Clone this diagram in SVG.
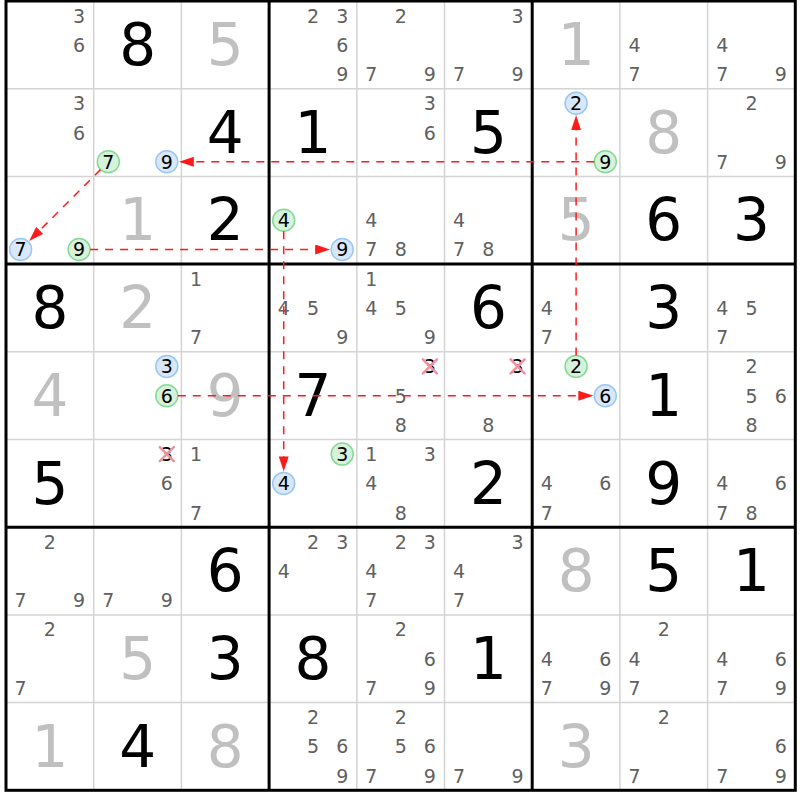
<svg xmlns="http://www.w3.org/2000/svg" width="800" height="800" viewBox="0 0 800 800">
<style>
text{font-family:"DejaVu Sans","Liberation Sans",sans-serif;text-anchor:middle}
.g{font-size:58px;fill:#000}
.s{font-size:58px;fill:#c0c0c0}
.c{font-size:19px;fill:#606060}
.k{font-size:19px;fill:#000}
.cb{fill:#d8e8fa;stroke:#9ac6f2;stroke-width:1.5}
.cg{fill:#d6f2da;stroke:#86d896;stroke-width:1.5}
.x{stroke:#f4909c;stroke-width:2.5;stroke-linecap:round}
.thin{stroke:#d4d4d4;stroke-width:1.5}
.thick{stroke:#000;stroke-width:3}
.arr{stroke:#ff1a1a;stroke-width:1.5;stroke-dasharray:8 7;fill:none;marker-end:url(#ah)}
</style>
<defs>
<marker id="ah" viewBox="0 0 15 10" refX="15" refY="5" markerWidth="15" markerHeight="10" markerUnits="userSpaceOnUse" orient="auto">
<path d="M0,0 L15,5 L0,10 z" fill="#ff1a1a"/>
</marker>
</defs>
<rect x="0" y="0" width="800" height="800" fill="#fff"/>
<g id="grid">
<path class="thin" d="M93.7 1V790.3M181.4 1V790.3M356.8 1V790.3M444.5 1V790.3M619.9 1V790.3M707.6 1V790.3M6 88.7H795.3M6 176.4H795.3M6 351.8H795.3M6 439.5H795.3M6 614.9H795.3M6 702.6H795.3"/>
<path class="thick" d="M269.1 1V790.3M532.2 1V790.3M6 264.1H795.3M6 527.2H795.3"/>
<rect x="6" y="1" width="789.3" height="789.3" fill="none" stroke="#000" stroke-width="3"/>
</g>
<!-- row 0 -->
<g id="r0c0" transform="translate(6,1)"><text class="c" x="73.1" y="21.6">3</text><text class="c" x="73.1" y="50.9">6</text></g>
<g id="r0c1" transform="translate(93.7,1)"><text class="g" x="43.9" y="64">8</text></g>
<g id="r0c2" transform="translate(181.4,1)"><text class="s" x="43.9" y="64">5</text></g>
<g id="r0c3" transform="translate(269.1,1)"><text class="c" x="43.9" y="21.6">2</text><text class="c" x="73.1" y="21.6">3</text><text class="c" x="73.1" y="50.9">6</text><text class="c" x="73.1" y="80.1">9</text></g>
<g id="r0c4" transform="translate(356.8,1)"><text class="c" x="43.9" y="21.6">2</text><text class="c" x="14.6" y="80.1">7</text><text class="c" x="73.1" y="80.1">9</text></g>
<g id="r0c5" transform="translate(444.5,1)"><text class="c" x="73.1" y="21.6">3</text><text class="c" x="14.6" y="80.1">7</text><text class="c" x="73.1" y="80.1">9</text></g>
<g id="r0c6" transform="translate(532.2,1)"><text class="s" x="43.9" y="64">1</text></g>
<g id="r0c7" transform="translate(619.9,1)"><text class="c" x="14.6" y="50.9">4</text><text class="c" x="14.6" y="80.1">7</text></g>
<g id="r0c8" transform="translate(707.6,1)"><text class="c" x="14.6" y="50.9">4</text><text class="c" x="14.6" y="80.1">7</text><text class="c" x="73.1" y="80.1">9</text></g>
<!-- row 1 -->
<g id="r1c0" transform="translate(6,88.7)"><text class="c" x="73.1" y="21.6">3</text><text class="c" x="73.1" y="50.9">6</text></g>
<g id="r1c1" transform="translate(93.7,88.7)"><circle class="cg" cx="14.6" cy="73.1" r="11"/><text class="k" x="14.6" y="80.1">7</text><circle class="cb" cx="73.1" cy="73.1" r="11"/><text class="k" x="73.1" y="80.1">9</text></g>
<g id="r1c2" transform="translate(181.4,88.7)"><text class="g" x="43.9" y="64">4</text></g>
<g id="r1c3" transform="translate(269.1,88.7)"><text class="g" x="43.9" y="64">1</text></g>
<g id="r1c4" transform="translate(356.8,88.7)"><text class="c" x="73.1" y="21.6">3</text><text class="c" x="73.1" y="50.9">6</text></g>
<g id="r1c5" transform="translate(444.5,88.7)"><text class="g" x="43.9" y="64">5</text></g>
<g id="r1c6" transform="translate(532.2,88.7)"><circle class="cb" cx="43.9" cy="14.6" r="11"/><text class="k" x="43.9" y="21.6">2</text><circle class="cg" cx="73.1" cy="73.1" r="11"/><text class="k" x="73.1" y="80.1">9</text></g>
<g id="r1c7" transform="translate(619.9,88.7)"><text class="s" x="43.9" y="64">8</text></g>
<g id="r1c8" transform="translate(707.6,88.7)"><text class="c" x="43.9" y="21.6">2</text><text class="c" x="14.6" y="80.1">7</text><text class="c" x="73.1" y="80.1">9</text></g>
<!-- row 2 -->
<g id="r2c0" transform="translate(6,176.4)"><circle class="cb" cx="14.6" cy="73.1" r="11"/><text class="k" x="14.6" y="80.1">7</text><circle class="cg" cx="73.1" cy="73.1" r="11"/><text class="k" x="73.1" y="80.1">9</text></g>
<g id="r2c1" transform="translate(93.7,176.4)"><text class="s" x="43.9" y="64">1</text></g>
<g id="r2c2" transform="translate(181.4,176.4)"><text class="g" x="43.9" y="64">2</text></g>
<g id="r2c3" transform="translate(269.1,176.4)"><circle class="cg" cx="14.6" cy="43.9" r="11"/><text class="k" x="14.6" y="50.9">4</text><circle class="cb" cx="73.1" cy="73.1" r="11"/><text class="k" x="73.1" y="80.1">9</text></g>
<g id="r2c4" transform="translate(356.8,176.4)"><text class="c" x="14.6" y="50.9">4</text><text class="c" x="14.6" y="80.1">7</text><text class="c" x="43.9" y="80.1">8</text></g>
<g id="r2c5" transform="translate(444.5,176.4)"><text class="c" x="14.6" y="50.9">4</text><text class="c" x="14.6" y="80.1">7</text><text class="c" x="43.9" y="80.1">8</text></g>
<g id="r2c6" transform="translate(532.2,176.4)"><text class="s" x="43.9" y="64">5</text></g>
<g id="r2c7" transform="translate(619.9,176.4)"><text class="g" x="43.9" y="64">6</text></g>
<g id="r2c8" transform="translate(707.6,176.4)"><text class="g" x="43.9" y="64">3</text></g>
<!-- row 3 -->
<g id="r3c0" transform="translate(6,264.1)"><text class="g" x="43.9" y="64">8</text></g>
<g id="r3c1" transform="translate(93.7,264.1)"><text class="s" x="43.9" y="64">2</text></g>
<g id="r3c2" transform="translate(181.4,264.1)"><text class="c" x="14.6" y="21.6">1</text><text class="c" x="14.6" y="80.1">7</text></g>
<g id="r3c3" transform="translate(269.1,264.1)"><text class="c" x="14.6" y="50.9">4</text><text class="c" x="43.9" y="50.9">5</text><text class="c" x="73.1" y="80.1">9</text></g>
<g id="r3c4" transform="translate(356.8,264.1)"><text class="c" x="14.6" y="21.6">1</text><text class="c" x="14.6" y="50.9">4</text><text class="c" x="43.9" y="50.9">5</text><text class="c" x="73.1" y="80.1">9</text></g>
<g id="r3c5" transform="translate(444.5,264.1)"><text class="g" x="43.9" y="64">6</text></g>
<g id="r3c6" transform="translate(532.2,264.1)"><text class="c" x="14.6" y="50.9">4</text><text class="c" x="14.6" y="80.1">7</text></g>
<g id="r3c7" transform="translate(619.9,264.1)"><text class="g" x="43.9" y="64">3</text></g>
<g id="r3c8" transform="translate(707.6,264.1)"><text class="c" x="14.6" y="50.9">4</text><text class="c" x="43.9" y="50.9">5</text><text class="c" x="14.6" y="80.1">7</text></g>
<!-- row 4 -->
<g id="r4c0" transform="translate(6,351.8)"><text class="s" x="43.9" y="64">4</text></g>
<g id="r4c1" transform="translate(93.7,351.8)"><circle class="cb" cx="73.1" cy="14.6" r="11"/><text class="k" x="73.1" y="21.6">3</text><circle class="cg" cx="73.1" cy="43.9" r="11"/><text class="k" x="73.1" y="50.9">6</text></g>
<g id="r4c2" transform="translate(181.4,351.8)"><text class="s" x="43.9" y="64">9</text></g>
<g id="r4c3" transform="translate(269.1,351.8)"><text class="g" x="43.9" y="64">7</text></g>
<g id="r4c4" transform="translate(356.8,351.8)"><text class="k" x="73.1" y="21.6">3</text><path class="x" d="M66.1 7.6L80.1 21.6M80.1 7.6L66.1 21.6"/><text class="c" x="43.9" y="50.9">5</text><text class="c" x="43.9" y="80.1">8</text></g>
<g id="r4c5" transform="translate(444.5,351.8)"><text class="k" x="73.1" y="21.6">3</text><path class="x" d="M66.1 7.6L80.1 21.6M80.1 7.6L66.1 21.6"/><text class="c" x="43.9" y="80.1">8</text></g>
<g id="r4c6" transform="translate(532.2,351.8)"><circle class="cg" cx="43.9" cy="14.6" r="11"/><text class="k" x="43.9" y="21.6">2</text><circle class="cb" cx="73.1" cy="43.9" r="11"/><text class="k" x="73.1" y="50.9">6</text></g>
<g id="r4c7" transform="translate(619.9,351.8)"><text class="g" x="43.9" y="64">1</text></g>
<g id="r4c8" transform="translate(707.6,351.8)"><text class="c" x="43.9" y="21.6">2</text><text class="c" x="43.9" y="50.9">5</text><text class="c" x="73.1" y="50.9">6</text><text class="c" x="43.9" y="80.1">8</text></g>
<!-- row 5 -->
<g id="r5c0" transform="translate(6,439.5)"><text class="g" x="43.9" y="64">5</text></g>
<g id="r5c1" transform="translate(93.7,439.5)"><text class="k" x="73.1" y="21.6">3</text><path class="x" d="M66.1 7.6L80.1 21.6M80.1 7.6L66.1 21.6"/><text class="c" x="73.1" y="50.9">6</text></g>
<g id="r5c2" transform="translate(181.4,439.5)"><text class="c" x="14.6" y="21.6">1</text><text class="c" x="14.6" y="80.1">7</text></g>
<g id="r5c3" transform="translate(269.1,439.5)"><circle class="cg" cx="73.1" cy="14.6" r="11"/><text class="k" x="73.1" y="21.6">3</text><circle class="cb" cx="14.6" cy="43.9" r="11"/><text class="k" x="14.6" y="50.9">4</text></g>
<g id="r5c4" transform="translate(356.8,439.5)"><text class="c" x="14.6" y="21.6">1</text><text class="c" x="73.1" y="21.6">3</text><text class="c" x="14.6" y="50.9">4</text><text class="c" x="43.9" y="80.1">8</text></g>
<g id="r5c5" transform="translate(444.5,439.5)"><text class="g" x="43.9" y="64">2</text></g>
<g id="r5c6" transform="translate(532.2,439.5)"><text class="c" x="14.6" y="50.9">4</text><text class="c" x="73.1" y="50.9">6</text><text class="c" x="14.6" y="80.1">7</text></g>
<g id="r5c7" transform="translate(619.9,439.5)"><text class="g" x="43.9" y="64">9</text></g>
<g id="r5c8" transform="translate(707.6,439.5)"><text class="c" x="14.6" y="50.9">4</text><text class="c" x="73.1" y="50.9">6</text><text class="c" x="14.6" y="80.1">7</text><text class="c" x="43.9" y="80.1">8</text></g>
<!-- row 6 -->
<g id="r6c0" transform="translate(6,527.2)"><text class="c" x="43.9" y="21.6">2</text><text class="c" x="14.6" y="80.1">7</text><text class="c" x="73.1" y="80.1">9</text></g>
<g id="r6c1" transform="translate(93.7,527.2)"><text class="c" x="14.6" y="80.1">7</text><text class="c" x="73.1" y="80.1">9</text></g>
<g id="r6c2" transform="translate(181.4,527.2)"><text class="g" x="43.9" y="64">6</text></g>
<g id="r6c3" transform="translate(269.1,527.2)"><text class="c" x="43.9" y="21.6">2</text><text class="c" x="73.1" y="21.6">3</text><text class="c" x="14.6" y="50.9">4</text></g>
<g id="r6c4" transform="translate(356.8,527.2)"><text class="c" x="43.9" y="21.6">2</text><text class="c" x="73.1" y="21.6">3</text><text class="c" x="14.6" y="50.9">4</text><text class="c" x="14.6" y="80.1">7</text></g>
<g id="r6c5" transform="translate(444.5,527.2)"><text class="c" x="73.1" y="21.6">3</text><text class="c" x="14.6" y="50.9">4</text><text class="c" x="14.6" y="80.1">7</text></g>
<g id="r6c6" transform="translate(532.2,527.2)"><text class="s" x="43.9" y="64">8</text></g>
<g id="r6c7" transform="translate(619.9,527.2)"><text class="g" x="43.9" y="64">5</text></g>
<g id="r6c8" transform="translate(707.6,527.2)"><text class="g" x="43.9" y="64">1</text></g>
<!-- row 7 -->
<g id="r7c0" transform="translate(6,614.9)"><text class="c" x="43.9" y="21.6">2</text><text class="c" x="14.6" y="80.1">7</text></g>
<g id="r7c1" transform="translate(93.7,614.9)"><text class="s" x="43.9" y="64">5</text></g>
<g id="r7c2" transform="translate(181.4,614.9)"><text class="g" x="43.9" y="64">3</text></g>
<g id="r7c3" transform="translate(269.1,614.9)"><text class="g" x="43.9" y="64">8</text></g>
<g id="r7c4" transform="translate(356.8,614.9)"><text class="c" x="43.9" y="21.6">2</text><text class="c" x="73.1" y="50.9">6</text><text class="c" x="14.6" y="80.1">7</text><text class="c" x="73.1" y="80.1">9</text></g>
<g id="r7c5" transform="translate(444.5,614.9)"><text class="g" x="43.9" y="64">1</text></g>
<g id="r7c6" transform="translate(532.2,614.9)"><text class="c" x="14.6" y="50.9">4</text><text class="c" x="73.1" y="50.9">6</text><text class="c" x="14.6" y="80.1">7</text><text class="c" x="73.1" y="80.1">9</text></g>
<g id="r7c7" transform="translate(619.9,614.9)"><text class="c" x="43.9" y="21.6">2</text><text class="c" x="14.6" y="50.9">4</text><text class="c" x="14.6" y="80.1">7</text></g>
<g id="r7c8" transform="translate(707.6,614.9)"><text class="c" x="14.6" y="50.9">4</text><text class="c" x="73.1" y="50.9">6</text><text class="c" x="14.6" y="80.1">7</text><text class="c" x="73.1" y="80.1">9</text></g>
<!-- row 8 -->
<g id="r8c0" transform="translate(6,702.6)"><text class="s" x="43.9" y="64">1</text></g>
<g id="r8c1" transform="translate(93.7,702.6)"><text class="g" x="43.9" y="64">4</text></g>
<g id="r8c2" transform="translate(181.4,702.6)"><text class="s" x="43.9" y="64">8</text></g>
<g id="r8c3" transform="translate(269.1,702.6)"><text class="c" x="43.9" y="21.6">2</text><text class="c" x="43.9" y="50.9">5</text><text class="c" x="73.1" y="50.9">6</text><text class="c" x="73.1" y="80.1">9</text></g>
<g id="r8c4" transform="translate(356.8,702.6)"><text class="c" x="43.9" y="21.6">2</text><text class="c" x="43.9" y="50.9">5</text><text class="c" x="73.1" y="50.9">6</text><text class="c" x="14.6" y="80.1">7</text><text class="c" x="73.1" y="80.1">9</text></g>
<g id="r8c5" transform="translate(444.5,702.6)"><text class="c" x="14.6" y="80.1">7</text><text class="c" x="73.1" y="80.1">9</text></g>
<g id="r8c6" transform="translate(532.2,702.6)"><text class="s" x="43.9" y="64">3</text></g>
<g id="r8c7" transform="translate(619.9,702.6)"><text class="c" x="43.9" y="21.6">2</text><text class="c" x="14.6" y="80.1">7</text></g>
<g id="r8c8" transform="translate(707.6,702.6)"><text class="c" x="73.1" y="50.9">6</text><text class="c" x="14.6" y="80.1">7</text><text class="c" x="73.1" y="80.1">9</text></g>
<g id="connectors">
<line class="arr" x1="594.3" y1="161.8" x2="178.8" y2="161.8"/>
<line class="arr" x1="100.5" y1="169.6" x2="29.1" y2="241"/>
<line class="arr" x1="90.1" y1="249.5" x2="330.2" y2="249.5"/>
<line class="arr" x1="283.7" y1="231.3" x2="283.7" y2="471.4"/>
<line class="arr" x1="177.8" y1="395.7" x2="593.3" y2="395.7"/>
<line class="arr" x1="576.1" y1="355.4" x2="576.1" y2="115.3"/>
</g>
</svg>
